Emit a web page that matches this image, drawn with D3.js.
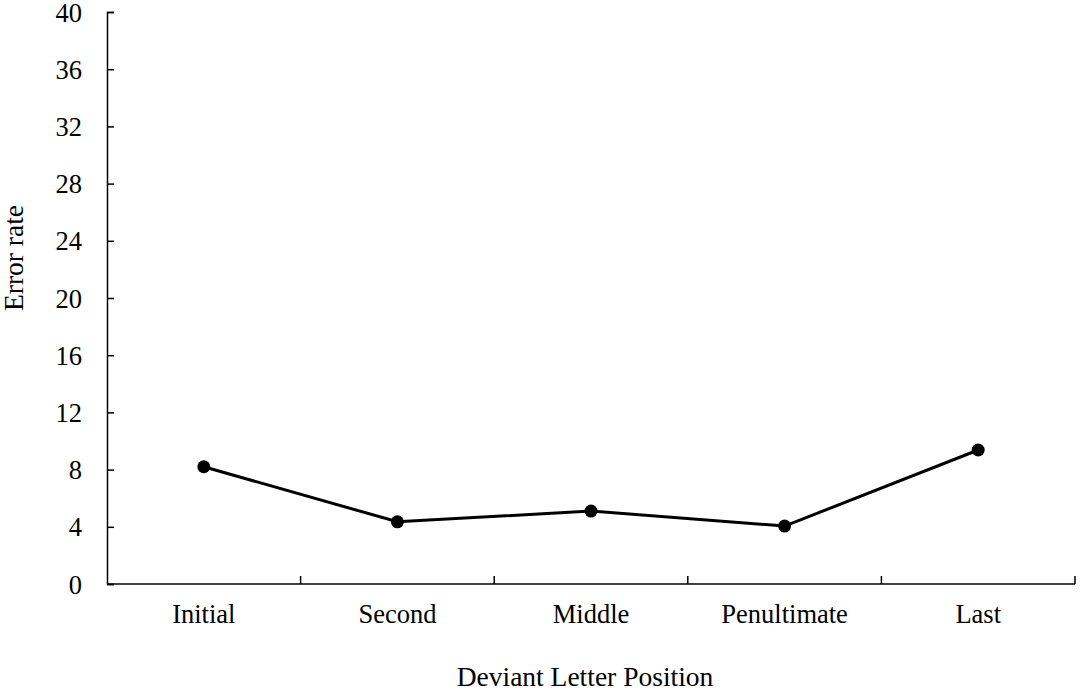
<!DOCTYPE html>
<html>
<head>
<meta charset="utf-8">
<script src="https://cdn.jsdelivr.net/npm/d3@7"></script>
<style>
  body { margin: 0; background: #fff; }
</style>
</head>
<body>
<svg width="1084" height="693"></svg>
<script>
// categories along the x axis
const positions = ["Initial", "Second", "Middle", "Penultimate", "Last"];
// error rate for each deviant letter position
const errorRates = [8.2, 4.35, 5.1, 4.05, 9.37];
// y tick values
const yTicks = [0, 4, 8, 12, 16, 20, 24, 28, 32, 36, 40];

const FONT = "'Liberation Serif', 'Times New Roman', Times, serif";

const svg = d3.select("svg");
const margin = { top: 12, left: 107, right: 9, bottom: 109 };
const width = 1084 - margin.left - margin.right,
  height = 693 - margin.top - margin.bottom;

const g = svg.append("g").attr("transform", `translate(${margin.left},${margin.top})`);

// band scale for the categories, linear for the rate
const x = d3.scaleBand().domain(positions).range([0, width]);
const y = d3.scaleLinear().domain([0, 40]).range([height, 0]);

// y axis, ticks pointing into the plot
const yAxis = g.append("g")
  .call(d3.axisLeft(y).tickValues(yTicks).tickSize(-7).tickPadding(25));
yAxis.attr("font-family", FONT);
yAxis.selectAll("text")
  .attr("font-family", FONT)
  .attr("font-size", 26.5)
  .attr("fill", "#000")
  .attr("dy", "0.34em");
yAxis.select(".domain").attr("stroke-width", 1.5);
yAxis.selectAll(".tick line").attr("stroke-width", 1.5);

// x axis, ticks on the band boundaries pointing up
const xAxis = g.append("g").attr("transform", `translate(0,${height})`);
xAxis.append("path")
  .attr("d", `M0,0H${width}`)
  .attr("stroke", "#000").attr("stroke-width", 1.5);
const bounds = positions.map((p) => x(p) + x.bandwidth());
xAxis.selectAll(".xtick").data(bounds).enter().append("line")
  .attr("x1", (d) => d).attr("x2", (d) => d)
  .attr("y1", 0).attr("y2", -8)
  .attr("stroke", "#000").attr("stroke-width", 1.5);
xAxis.selectAll(".xlab").data(positions).enter().append("text")
  .attr("x", (d) => x(d) + x.bandwidth() / 2)
  .attr("y", 39)
  .attr("text-anchor", "middle")
  .attr("font-family", FONT)
  .attr("font-size", 26.5)
  .text((d) => d);

// the line and its markers
const line = d3.line()
  .x((d, i) => x(positions[i]) + x.bandwidth() / 2)
  .y((d) => y(d));

g.append("path")
  .datum(errorRates)
  .attr("fill", "none")
  .attr("stroke", "#000")
  .attr("stroke-width", 3)
  .attr("d", line);

g.selectAll(".dot").data(errorRates).enter().append("circle")
  .attr("cx", (d, i) => x(positions[i]) + x.bandwidth() / 2)
  .attr("cy", (d) => y(d))
  .attr("r", 6.5)
  .attr("fill", "#000");

// axis titles
svg.append("text")
  .attr("x", 585).attr("y", 686)
  .attr("text-anchor", "middle")
  .attr("font-family", FONT)
  .attr("font-size", 27.5)
  .text("Deviant Letter Position");

svg.append("text")
  .attr("transform", "translate(23,258) rotate(-90)")
  .attr("text-anchor", "middle")
  .attr("font-family", FONT)
  .attr("font-size", 27.5)
  .text("Error rate");
</script>
</body>
</html>
